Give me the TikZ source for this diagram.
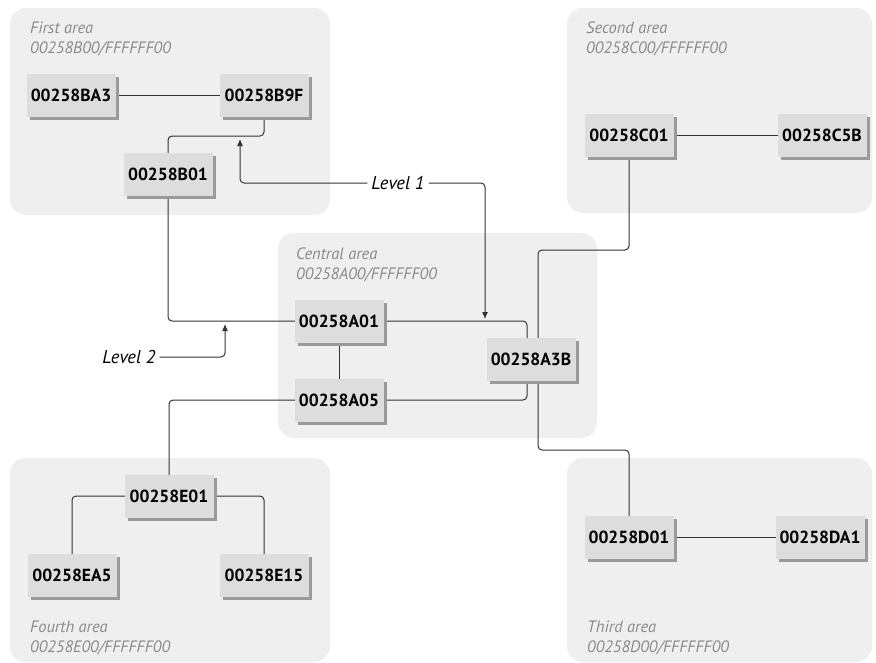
\documentclass[tikz,border=0pt]{standalone}
\usepackage{fontspec}
\setmainfont{PT Sans}
\usetikzlibrary{arrows.meta,shadows}
\definecolor{areagray}{HTML}{EFEFEF}
\definecolor{boxgray}{HTML}{DDDDDD}
\definecolor{shadowgray}{HTML}{9A9A9A}
\definecolor{labelgray}{HTML}{8A8A8A}
\definecolor{linecol}{HTML}{333333}
\begin{document}
\begin{tikzpicture}[x=1pt,y=-1pt,
  area/.style={fill=areagray, draw=none, rounded corners=16pt},
  nodebox/.style={fill=boxgray, draw=none, minimum width=89pt, minimum height=43pt, inner sep=0pt,
    font=\bfseries\fontsize{17.5}{19}\selectfont,
    drop shadow={shadow xshift=3pt, shadow yshift=-3pt, fill=shadowgray, opacity=1}},
  arealabel/.style={anchor=base west, inner sep=0pt, text=labelgray, font=\itshape\fontsize{16.5}{18}\selectfont},
  levellabel/.style={inner sep=4pt, font=\itshape\fontsize{18.5}{20}\selectfont},
  conn/.style={draw=linecol, line width=1pt, rounded corners=4pt},
  levelarrow/.style={conn, -{Latex[length=7pt,width=6pt]}}]
\useasboundingbox (0,0) rectangle (876,662);
\fill[white] (0,0) rectangle (876,662);
% areas
\path[area] (10,8) rectangle (330,215);
\path[area] (567,8) rectangle (872,213);
\path[area] (278,233) rectangle (597,438);
\path[area] (10,458) rectangle (330,662);
\path[area] (567,458) rectangle (872,662);
% area labels
\node[arealabel] (a1t) at (30,33) {First area};
\node[arealabel] (a1m) at (30,53) {00258B00/FFFFFF00};
\node[arealabel] (a2t) at (586,33) {Second area};
\node[arealabel] (a2m) at (586,53) {00258C00/FFFFFF00};
\node[arealabel] (a0t) at (296,259) {Central area};
\node[arealabel] (a0m) at (296,279) {00258A00/FFFFFF00};
\node[arealabel] (a4t) at (30,632) {Fourth area};
\node[arealabel] (a4m) at (30,652) {00258E00/FFFFFF00};
\node[arealabel] (a3t) at (587,632) {Third area};
\node[arealabel] (a3m) at (587,652) {00258D00/FFFFFF00};
% connectors (drawn before nodes so nodes sit on top)
\coordinate (BA3c) at (71,95);
\coordinate (B9Fc) at (264,95);
\coordinate (B01c) at (168,174);
\coordinate (C01c) at (629,135);
\coordinate (C5Bc) at (822,135);
\coordinate (A01c) at (339,321);
\coordinate (A05c) at (339,400);
\coordinate (A3Bc) at (531,359);
\coordinate (E01c) at (169,496);
\coordinate (EA5c) at (72,575);
\coordinate (E15c) at (264,575);
\coordinate (D01c) at (629,537);
\coordinate (DA1c) at (820,537);
\coordinate (cA) at (538,250);
\coordinate (cB) at (538,450);
\draw[conn] (BA3c) -- (B9Fc);
\draw[conn] (C01c) -- (C5Bc);
\draw[conn] (D01c) -- (DA1c);
\draw[conn] (B9Fc) -- (264,136) -| (B01c);
\draw[conn] (B01c) |- (A01c);
\draw[conn] (A01c) -- (A05c);
\draw[conn] (A01c) -| (527,359);
\draw[conn] (A05c) -| (527,359);
\draw[conn] (C01c) |- (cA) -- (538,359);
\draw[conn] (538,359) -- (cB) -| (D01c);
\draw[conn] (A05c) -| (E01c);
\draw[conn] (E01c) -| (EA5c);
\draw[conn] (E01c) -| (E15c);
% nodes
\node[nodebox] (BA3) at (BA3c) {00258BA3};
\node[nodebox] (B9F) at (B9Fc) {00258B9F};
\node[nodebox] (B01) at (B01c) {00258B01};
\node[nodebox] (C01) at (C01c) {00258C01};
\node[nodebox] (C5B) at (C5Bc) {00258C5B};
\node[nodebox] (A01) at (A01c) {00258A01};
\node[nodebox] (A05) at (A05c) {00258A05};
\node[nodebox] (A3B) at (A3Bc) {00258A3B};
\node[nodebox] (E01) at (E01c) {00258E01};
\node[nodebox] (EA5) at (EA5c) {00258EA5};
\node[nodebox] (E15) at (E15c) {00258E15};
\node[nodebox] (D01) at (D01c) {00258D01};
\node[nodebox] (DA1) at (DA1c) {00258DA1};
% level labels
\node[levellabel] (L1) at (398,183) {Level 1};
\node[levellabel] (L2) at (129,357) {Level 2};
\coordinate (t1) at (240,139);
\coordinate (t2) at (485,319);
\coordinate (t3) at (225,324);
\draw[levelarrow] (L1.west) -| (t1);
\draw[levelarrow] (L1.east) -| (t2);
\draw[levelarrow] (L2.east) -| (t3);
\end{tikzpicture}
\end{document}
